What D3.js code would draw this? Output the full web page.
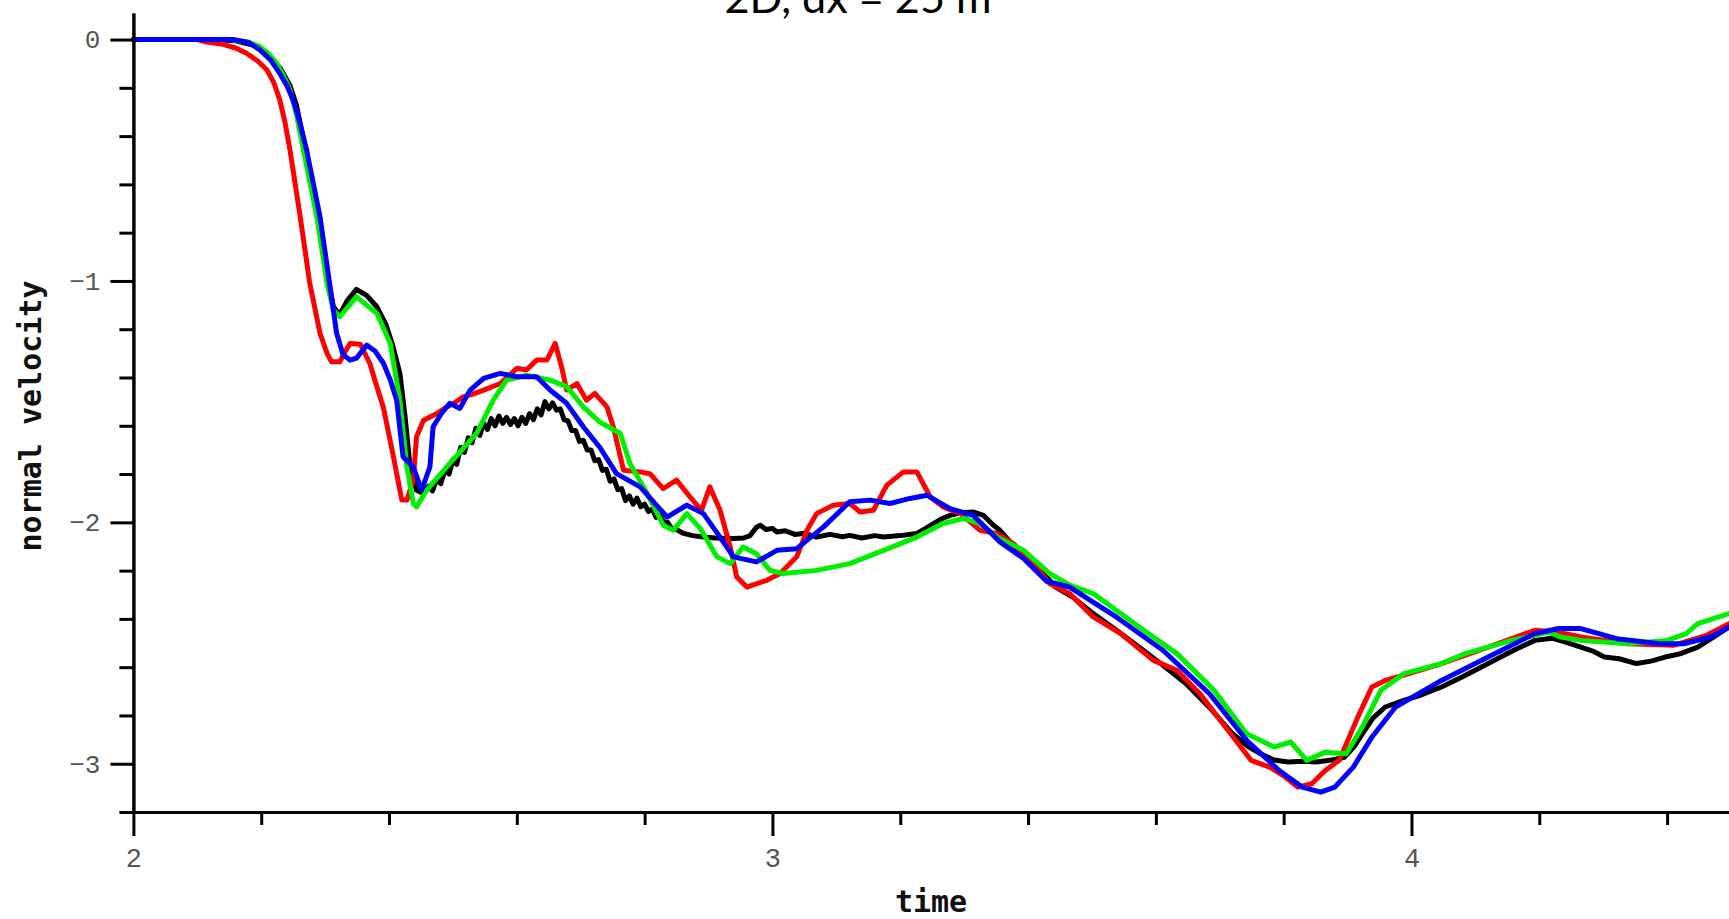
<!DOCTYPE html>
<html>
<head>
<meta charset="utf-8">
<script src="https://cdn.jsdelivr.net/npm/d3@7"></script>
<style>
  html, body { margin: 0; padding: 0; background: #fff; overflow: hidden; }
  svg { display: block; }
</style>
</head>
<body>
<script>
// ---------------- DATA ----------------
const titleText = "2D, dx = 25 m";
const xLabel = "time";
const yLabel = "normal velocity";
const xMajorTicks = [2, 3, 4];
const xMinorTicks = [2.2, 2.4, 2.6, 2.8, 3.2, 3.4, 3.6, 3.8, 4.2, 4.4];
const yMajorTicks = [0, -1, -2, -3];
const yMinorTicks = [-0.2, -0.4, -0.6, -0.8, -1.2, -1.4, -1.6, -1.8, -2.2, -2.4, -2.6, -2.8, -3.2];
const xTickLabels = ["2", "3", "4"];
const yTickLabels = ["0", "\u22121", "\u22122", "\u22123"];

const blackT = [2.0, 2.12, 2.16, 2.19, 2.21, 2.23, 2.245, 2.255, 2.265, 2.28, 2.295, 2.305, 2.313, 2.323, 2.335, 2.349, 2.365, 2.381, 2.395, 2.405, 2.417, 2.425, 2.433, 2.443, 2.454,
  2.462, 2.468, 2.475, 2.481, 2.488, 2.494, 2.500, 2.506, 2.512, 2.518, 2.524, 2.530, 2.536, 2.542, 2.548, 2.554, 2.560, 2.566, 2.572, 2.578, 2.584, 2.590, 2.596, 2.602, 2.608, 2.614, 2.620, 2.626, 2.632, 2.638, 2.644, 2.650, 2.656, 2.662, 2.668, 2.674, 2.680, 2.686, 2.692, 2.698, 2.704, 2.710, 2.716, 2.722, 2.728, 2.734, 2.740, 2.746, 2.752, 2.758, 2.764, 2.770, 2.776, 2.782, 2.788, 2.794, 2.800, 2.806, 2.812, 2.818, 2.824, 2.830, 2.836, 2.842, 2.850, 2.861, 2.875, 2.892, 2.910, 2.939, 2.955, 2.965, 2.975, 2.981, 2.990, 3.000, 3.007, 3.020, 3.035, 3.050, 3.069, 3.090, 3.110, 3.121, 3.140, 3.160, 3.174, 3.200, 3.226, 3.240, 3.252, 3.265, 3.278, 3.295, 3.314, 3.330, 3.345, 3.356, 3.375, 3.393, 3.410, 3.434, 3.443, 3.470, 3.502, 3.540, 3.574, 3.610, 3.647, 3.685, 3.720, 3.745, 3.764, 3.785, 3.807, 3.830, 3.851, 3.875, 3.895, 3.910, 3.923, 3.940, 3.959, 3.975, 3.988, 4.010, 4.047, 4.080, 4.120, 4.160, 4.193, 4.220, 4.240, 4.265, 4.285, 4.302, 4.325, 4.352, 4.375, 4.397, 4.420, 4.448, 4.470, 4.497, 4.520];
const blackV = [0, 0, -0.005, -0.025, -0.06, -0.12, -0.19, -0.27, -0.40, -0.60, -0.85, -1.0, -1.107, -1.14, -1.08, -1.035, -1.06, -1.107, -1.18, -1.26, -1.383, -1.56, -1.77, -1.867, -1.881,
  -1.85, -1.87, -1.82, -1.84, -1.78, -1.80, -1.74, -1.76, -1.69, -1.71, -1.65, -1.67, -1.61, -1.64, -1.59, -1.615, -1.57, -1.60, -1.56, -1.59, -1.565, -1.595, -1.57, -1.60, -1.565, -1.59, -1.55, -1.575, -1.53, -1.555, -1.50, -1.53, -1.505, -1.535, -1.53, -1.575, -1.58, -1.62, -1.62, -1.665, -1.66, -1.70, -1.70, -1.745, -1.74, -1.785, -1.78, -1.83, -1.82, -1.865, -1.86, -1.91, -1.89, -1.925, -1.90, -1.935, -1.925, -1.955, -1.945, -1.98, -1.97, -2.00, -2.00, -2.025, -2.03, -2.046, -2.055, -2.061, -2.065, -2.067, -2.065, -2.055, -2.02, -2.012, -2.03, -2.025, -2.04, -2.035, -2.05, -2.045, -2.061, -2.05, -2.06, -2.054, -2.065, -2.055, -2.061, -2.055, -2.046, -2.025, -2.005, -1.985, -1.971, -1.96, -1.957, -1.971, -2.01, -2.033, -2.09, -2.13, -2.18, -2.24, -2.268, -2.31, -2.378, -2.45, -2.517, -2.59, -2.668, -2.77, -2.876, -2.93, -2.959, -2.985, -2.993, -2.99, -2.993, -2.985, -2.973, -2.93, -2.876, -2.81, -2.765, -2.75, -2.738, -2.72, -2.682, -2.64, -2.585, -2.53, -2.489, -2.48, -2.495, -2.517, -2.535, -2.558, -2.565, -2.585, -2.575, -2.558, -2.545, -2.517, -2.48, -2.434, -2.40];

const redT = [2.0, 2.10, 2.115, 2.14, 2.16, 2.177, 2.195, 2.209, 2.22, 2.229, 2.237, 2.245, 2.261, 2.276, 2.292, 2.303, 2.310, 2.323, 2.332, 2.339, 2.355, 2.370, 2.380, 2.391, 2.407, 2.420, 2.428, 2.438, 2.443, 2.454, 2.475, 2.490, 2.500, 2.516, 2.530, 2.548, 2.574, 2.585, 2.600, 2.615, 2.631, 2.647, 2.660, 2.670, 2.678, 2.694, 2.709, 2.722, 2.741, 2.751, 2.767, 2.793, 2.809, 2.829, 2.850, 2.871, 2.889, 2.902, 2.918, 2.934, 2.944, 2.960, 2.991, 3.012, 3.038, 3.054, 3.069, 3.095, 3.121, 3.137, 3.158, 3.179, 3.205, 3.226, 3.247, 3.267, 3.294, 3.325, 3.351, 3.377, 3.405, 3.434, 3.465, 3.502, 3.545, 3.596, 3.633, 3.669, 3.705, 3.749, 3.778, 3.800, 3.822, 3.844, 3.865, 3.887, 3.916, 3.938, 3.959, 3.996, 4.047, 4.120, 4.193, 4.230, 4.265, 4.338, 4.411, 4.462, 4.497, 4.520];
const redV = [0, 0, -0.01, -0.02, -0.035, -0.057, -0.09, -0.126, -0.18, -0.25, -0.34, -0.457, -0.734, -1.01, -1.217, -1.30, -1.335, -1.335, -1.29, -1.259, -1.262, -1.342, -1.43, -1.522, -1.729, -1.908, -1.908, -1.825, -1.646, -1.577, -1.549, -1.522, -1.51, -1.48, -1.47, -1.452, -1.425, -1.40, -1.362, -1.369, -1.328, -1.328, -1.259, -1.356, -1.452, -1.425, -1.494, -1.466, -1.522, -1.604, -1.784, -1.791, -1.80, -1.860, -1.825, -1.895, -1.950, -1.853, -1.950, -2.102, -2.226, -2.268, -2.240, -2.212, -2.143, -2.033, -1.964, -1.929, -1.922, -1.957, -1.950, -1.846, -1.791, -1.791, -1.895, -1.936, -1.964, -2.033, -2.046, -2.088, -2.16, -2.254, -2.295, -2.392, -2.461, -2.572, -2.613, -2.710, -2.834, -2.986, -3.014, -3.05, -3.097, -3.083, -3.028, -2.986, -2.807, -2.682, -2.655, -2.627, -2.585, -2.517, -2.447, -2.455, -2.475, -2.503, -2.509, -2.468, -2.42, -2.39];

const greenT = [2.0, 2.15, 2.18, 2.198, 2.212, 2.224, 2.235, 2.245, 2.255, 2.266, 2.287, 2.303, 2.313, 2.323, 2.335, 2.349, 2.365, 2.381, 2.402, 2.417, 2.428, 2.438, 2.443, 2.459, 2.495, 2.537, 2.563, 2.584, 2.615, 2.652, 2.678, 2.704, 2.730, 2.762, 2.777, 2.803, 2.829, 2.845, 2.866, 2.887, 2.913, 2.934, 2.954, 2.975, 2.996, 3.017, 3.069, 3.121, 3.174, 3.226, 3.267, 3.299, 3.325, 3.351, 3.393, 3.434, 3.465, 3.502, 3.574, 3.633, 3.691, 3.742, 3.785, 3.811, 3.836, 3.865, 3.898, 3.923, 3.952, 3.988, 4.047, 4.084, 4.157, 4.215, 4.233, 4.265, 4.338, 4.400, 4.430, 4.448, 4.497, 4.520];
const greenV = [0, 0, -0.01, -0.029, -0.06, -0.098, -0.15, -0.209, -0.31, -0.457, -0.734, -1.01, -1.121, -1.148, -1.11, -1.066, -1.10, -1.134, -1.259, -1.494, -1.770, -1.922, -1.936, -1.867, -1.756, -1.632, -1.494, -1.411, -1.390, -1.411, -1.438, -1.522, -1.585, -1.632, -1.756, -1.875, -2.012, -2.033, -1.964, -2.025, -2.143, -2.171, -2.102, -2.130, -2.199, -2.212, -2.199, -2.171, -2.116, -2.061, -2.005, -1.984, -2.005, -2.061, -2.116, -2.212, -2.26, -2.295, -2.434, -2.544, -2.696, -2.876, -2.931, -2.910, -2.986, -2.952, -2.959, -2.848, -2.696, -2.627, -2.585, -2.544, -2.489, -2.455, -2.475, -2.489, -2.503, -2.489, -2.461, -2.420, -2.378, -2.36];

const blueT = [2.0, 2.156, 2.18, 2.198, 2.215, 2.229, 2.24, 2.250, 2.260, 2.271, 2.292, 2.307, 2.318, 2.328, 2.339, 2.349, 2.365, 2.378, 2.391, 2.402, 2.412, 2.422, 2.438, 2.451, 2.464, 2.469, 2.482, 2.495, 2.511, 2.527, 2.548, 2.574, 2.600, 2.631, 2.652, 2.678, 2.704, 2.730, 2.756, 2.793, 2.835, 2.866, 2.892, 2.915, 2.939, 2.975, 3.007, 3.038, 3.080, 3.121, 3.153, 3.184, 3.215, 3.242, 3.278, 3.314, 3.356, 3.393, 3.429, 3.465, 3.538, 3.611, 3.684, 3.742, 3.793, 3.829, 3.858, 3.880, 3.909, 3.938, 3.975, 4.047, 4.120, 4.193, 4.230, 4.265, 4.321, 4.389, 4.426, 4.468, 4.497, 4.520];
const blueV = [0, 0, -0.012, -0.043, -0.085, -0.14, -0.19, -0.25, -0.34, -0.457, -0.734, -1.01, -1.217, -1.305, -1.328, -1.32, -1.266, -1.29, -1.34, -1.41, -1.494, -1.729, -1.770, -1.867, -1.770, -1.604, -1.549, -1.507, -1.528, -1.452, -1.404, -1.383, -1.397, -1.397, -1.452, -1.507, -1.604, -1.69, -1.798, -1.853, -1.978, -1.929, -1.964, -2.05, -2.143, -2.164, -2.116, -2.109, -2.019, -1.915, -1.908, -1.922, -1.901, -1.888, -1.943, -1.971, -2.081, -2.150, -2.244, -2.268, -2.392, -2.530, -2.710, -2.903, -3.028, -3.097, -3.118, -3.097, -3.014, -2.890, -2.765, -2.655, -2.558, -2.461, -2.44, -2.44, -2.482, -2.503, -2.503, -2.475, -2.434, -2.41];

const seriesList = [
  { name: "black", t: blackT, v: blackV, color: "#000000" },
  { name: "red",   t: redT,   v: redV,   color: "#ff0000" },
  { name: "green", t: greenT, v: greenV, color: "#00ee00" },
  { name: "blue",  t: blueT,  v: blueV,  color: "#0000ff" }
];

// ---------------- LAYOUT ----------------
const W = 1729, H = 919;
const svg = d3.select("body").append("svg").attr("width", W).attr("height", H);
svg.append("rect").attr("width", W).attr("height", H).attr("fill", "#fff");

const x = d3.scaleLinear().domain([2, 4.5]).range([133.4, 1731]);
const y = d3.scaleLinear().domain([-3.2, 0.11]).range([812, 13]);

// lines
const line = d3.line().x(d => x(d[0])).y(d => y(d[1])).curve(d3.curveLinear);
seriesList.forEach(s => {
  const pts = s.t.map((t, i) => [t, s.v[i]]);
  svg.append("path").datum(pts)
    .attr("d", line)
    .attr("fill", "none")
    .attr("stroke", s.color)
    .attr("stroke-width", 5)
    .attr("stroke-linejoin", "round")
    .attr("stroke-linecap", "round");
});

// axes
const axisColor = "#000";
const labelFont = "'Liberation Mono', 'DejaVu Sans Mono', monospace";

const xAxisMinor = d3.axisBottom(x).tickValues(xMinorTicks).tickSize(13).tickSizeOuter(0).tickFormat("");
const xAxisMajor = d3.axisBottom(x).tickValues(xMajorTicks).tickSize(24).tickSizeOuter(0)
  .tickFormat((d, i) => xTickLabels[i]).tickPadding(12);
const gx1 = svg.append("g").attr("transform", `translate(0,${y(-3.2)})`).call(xAxisMinor);
const gx2 = svg.append("g").attr("transform", `translate(0,${y(-3.2)})`).call(xAxisMajor);
[gx1, gx2].forEach(g => {
  g.selectAll("path.domain").attr("stroke", axisColor).attr("stroke-width", 3);
  g.selectAll(".tick line").attr("stroke", axisColor).attr("stroke-width", 3);
});
gx2.selectAll(".tick text")
  .attr("font-family", labelFont).attr("font-size", 27).attr("fill", "#555");

const yAxisMinor = d3.axisLeft(y).tickValues(yMinorTicks).tickSize(14).tickSizeOuter(0).tickFormat("");
const yAxisMajor = d3.axisLeft(y).tickValues(yMajorTicks).tickSize(23).tickSizeOuter(0)
  .tickFormat((d, i) => yTickLabels[i]).tickPadding(10);
const gy1 = svg.append("g").attr("transform", `translate(${x(2)},0)`).call(yAxisMinor);
const gy2 = svg.append("g").attr("transform", `translate(${x(2)},0)`).call(yAxisMajor);
[gy1, gy2].forEach(g => {
  g.selectAll("path.domain").attr("stroke", axisColor).attr("stroke-width", 3);
  g.selectAll(".tick line").attr("stroke", axisColor).attr("stroke-width", 3);
});
gy2.selectAll(".tick text")
  .attr("font-family", labelFont).attr("font-size", 26).attr("fill", "#555");

// axis titles
svg.append("text")
  .attr("x", 931).attr("y", 912)
  .attr("text-anchor", "middle")
  .attr("font-family", "'DejaVu Sans Mono', monospace")
  .attr("font-weight", "bold")
  .attr("font-size", 30)
  .attr("fill", "#111")
  .text(xLabel);

svg.append("text")
  .attr("transform", "translate(41,416) rotate(-90)")
  .attr("text-anchor", "middle")
  .attr("font-family", "'DejaVu Sans Mono', monospace")
  .attr("font-weight", "bold")
  .attr("font-size", 30)
  .attr("fill", "#111")
  .text(yLabel);

// title (cut off at the top, as in the reference)
const title = svg.append("text")
  .attr("x", 858).attr("y", 13)
  .attr("text-anchor", "middle")
  .attr("font-family", "Lato, 'Open Sans', sans-serif")
  .attr("font-size", 48)
  .attr("fill", "#000")
  .text(titleText);
const tw = title.node().getComputedTextLength();
if (tw > 0) title.attr("font-size", 48 * 267 / tw);
</script>
</body>
</html>
